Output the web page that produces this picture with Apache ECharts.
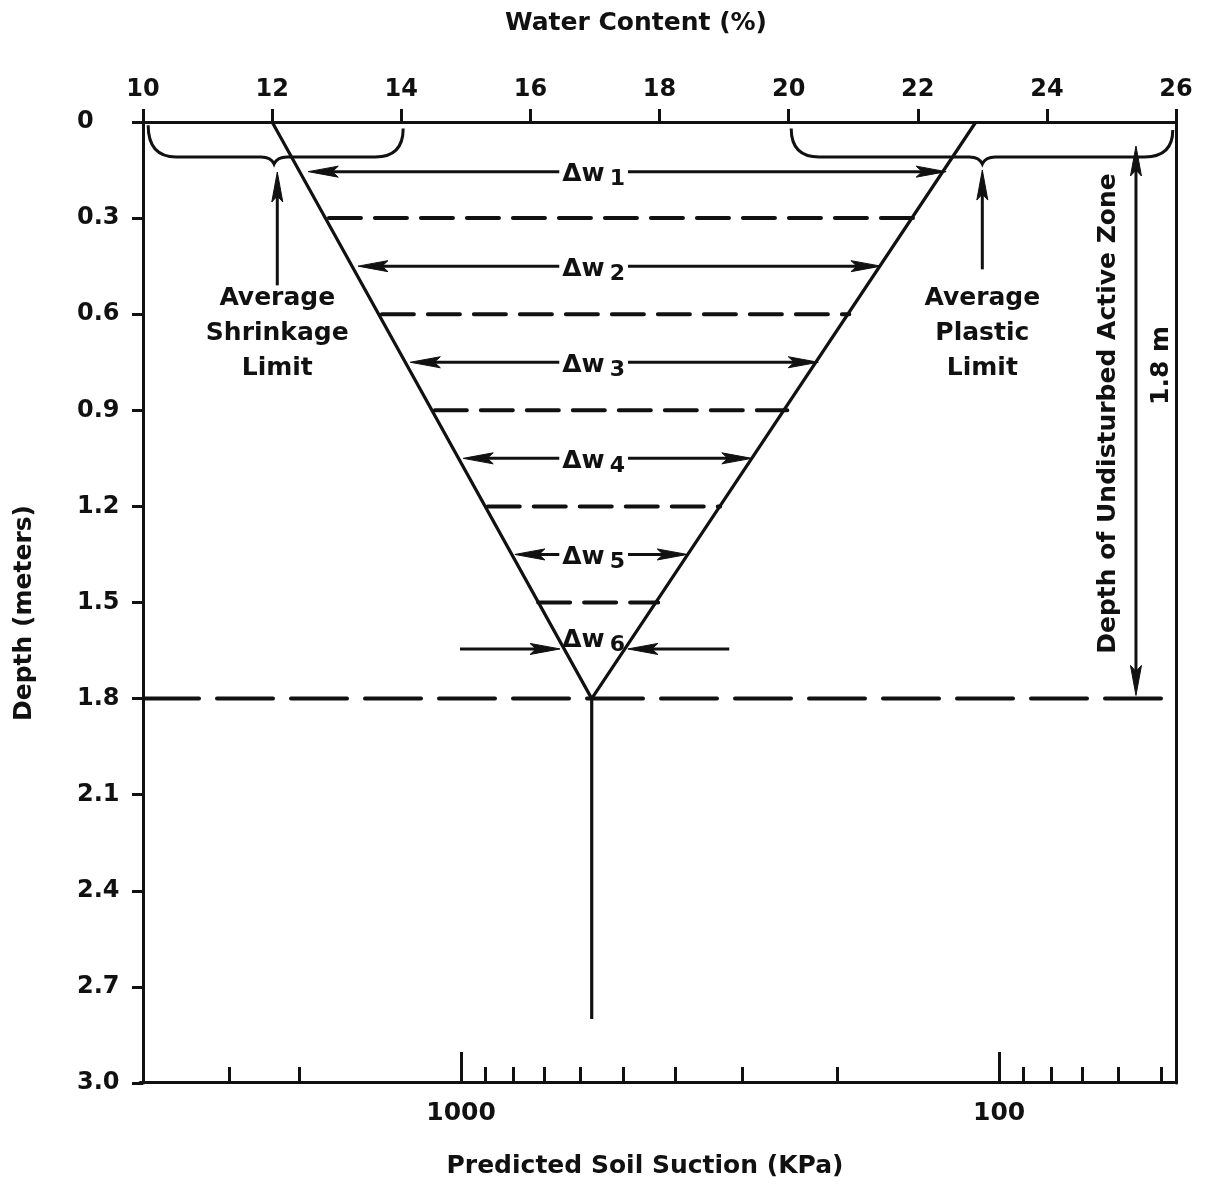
<!DOCTYPE html>
<html><head><meta charset="utf-8">
<script src="https://cdn.jsdelivr.net/npm/echarts@6/dist/echarts.min.js"></script>
<style>html,body{margin:0;padding:0;background:#fff}#c{width:1211px;height:1184px}</style>
</head><body><div id="c"></div>
<script>
// ---------------- data ----------------
// top axis: water content (%), left axis: depth (m), bottom axis: predicted soil suction (kPa, log)
const suctionMajorTicks = [1000, 100];
const suctionMinorTicks = [2700, 2000, 900, 800, 700, 600, 500, 400, 300, 200, 90, 80, 70, 60, 50];

// V-shaped envelope (shrinkage-limit side -> apex -> plastic-limit side)
const envelopeW = [12.0, 16.95, 22.9];
const envelopeD = [0, 1.8, 0];
const stemW = [16.95, 16.95];
const stemD = [1.8, 2.8];
const activeZoneDepth = 1.8;

// dashed layer boundaries inside the envelope
const levelDepth = [0.3, 0.6, 0.9, 1.2, 1.5];
const levelLeftW = [12.88, 13.70, 14.52, 15.34, 16.12];
const levelRightW = [21.93, 20.94, 19.98, 18.94, 17.98];

// Δw double arrows
const deltaSub = ['1', '2', '3', '4', '5', '6'];
const deltaDepth = [0.155, 0.45, 0.75, 1.05, 1.35];
const deltaLeftW = [12.56, 13.33, 14.14, 14.96, 15.76];
const deltaRightW = [22.44, 21.43, 20.46, 19.43, 18.43];
const deltaLabelW = 16.98;
// Δw6: two inward arrows
const dw6Depth = 1.645;
const dw6TailW = [14.91, 19.08];
const dw6TipW = [16.46, 17.51];
const dw6LabelDepth = 1.61;

// braces along the top (shrinkage limit range, plastic limit range)
const braceStartW = [10.08, 20.04];
const braceCuspW = [12.03, 23.0];
const braceEndW = [14.03, 25.95];
const braceStartD = [0.01, 0.02];
const braceEndD = [0.02, 0.025];
const braceBarD = [0.109, 0.109];
const braceCuspD = [0.131, 0.131];

// limit annotations
const limitText = ['Average\nShrinkage\nLimit', 'Average\nPlastic\nLimit'];
const limitW = [12.08, 23.0];
const limitTipD = [0.156, 0.15];
const limitTailD = [0.51, 0.46];
const limitLabelD = [0.66, 0.66];

// active zone dimension arrow
const zoneArrowW = [25.38, 25.38];
const zoneArrowD = [0.075, 1.79];
const zoneText = ['Depth of Undisturbed Active Zone', '1.8 m'];
const zoneTextW = [24.95, 25.78];
const zoneTextD = [0.91, 0.76];

// ---------------- chart ----------------
const FONT = 'DejaVu Sans';
const INK = '#111';
const txt = (size) => ({ fontFamily: FONT, fontWeight: 'bold', fontSize: size, color: INK });
const axisLine = { show: true, onZero: false, lineStyle: { color: INK, width: 3 } };

// arrows: [x1, d1, x2, d2, headAtStart, headAtEnd]
const arrowData = [];
deltaDepth.forEach((d, i) => arrowData.push([deltaLeftW[i], d, deltaRightW[i], d, 1, 1]));
dw6TailW.forEach((w, i) => arrowData.push([w, dw6Depth, dw6TipW[i], dw6Depth, 0, 1]));
limitW.forEach((w, i) => arrowData.push([w, limitTailD[i], w, limitTipD[i], 0, 1]));
arrowData.push([zoneArrowW[0], zoneArrowD[0], zoneArrowW[1], zoneArrowD[1], 1, 1]);

function renderArrow(params, api) {
  const p0 = api.coord([api.value(0), api.value(1)]);
  const p1 = api.coord([api.value(2), api.value(3)]);
  const hs = api.value(4), he = api.value(5);
  const dx = p1[0] - p0[0], dy = p1[1] - p0[1];
  const len = Math.hypot(dx, dy);
  const ux = dx / len, uy = dy / len, nx = -uy, ny = ux;
  const L = 30, W = 5.5, N = 0.8, cut = 10;
  const s = hs ? [p0[0] + ux * cut, p0[1] + uy * cut] : p0;
  const e = he ? [p1[0] - ux * cut, p1[1] - uy * cut] : p1;
  const children = [{ type: 'line', shape: { x1: s[0], y1: s[1], x2: e[0], y2: e[1] }, style: { stroke: INK, lineWidth: 3 } }];
  const head = (tip, sx, sy) => ({
    type: 'polygon',
    shape: { points: [
      [tip[0], tip[1]],
      [tip[0] - L * sx + W * nx, tip[1] - L * sy + W * ny],
      [tip[0] - N * L * sx, tip[1] - N * L * sy],
      [tip[0] - L * sx - W * nx, tip[1] - L * sy - W * ny]
    ] },
    style: { fill: INK, stroke: INK, lineWidth: 1 }
  });
  if (hs) children.push(head(p0, -ux, -uy));
  if (he) children.push(head(p1, ux, uy));
  return { type: 'group', children: children };
}

function renderBrace(params, api) {
  const a = api.coord([api.value(0), api.value(5)]);
  const b = api.coord([api.value(2), api.value(6)]);
  const c = api.coord([api.value(1), api.value(4)]);
  const yb = api.coord([api.value(0), api.value(3)])[1];
  const r = 28, k = 13;
  const p = 'M' + a[0] + ' ' + a[1] +
    ' Q' + a[0] + ' ' + yb + ' ' + (a[0] + r) + ' ' + yb +
    ' L' + (c[0] - k) + ' ' + yb +
    ' Q' + (c[0] - 3) + ' ' + yb + ' ' + c[0] + ' ' + c[1] +
    ' Q' + (c[0] + 3) + ' ' + yb + ' ' + (c[0] + k) + ' ' + yb +
    ' L' + (b[0] - r) + ' ' + yb +
    ' Q' + b[0] + ' ' + yb + ' ' + b[0] + ' ' + b[1];
  return { type: 'path', shape: { pathData: p }, style: { fill: null, stroke: INK, lineWidth: 3 } };
}

const baseLine = (data, style, z) => ({
  type: 'line', xAxisIndex: 0, yAxisIndex: 0, data: data, symbol: 'none', silent: true,
  lineStyle: Object.assign({ color: INK, width: 3.2 }, style), z: z
});

const series = [];
levelDepth.forEach((d, i) => series.push(baseLine([[levelLeftW[i], d], [levelRightW[i], d]],
  { type: [32, 14], width: 4, cap: 'round' }, 2)));
series.push(baseLine([[10, activeZoneDepth], [26, activeZoneDepth]], { type: [56, 18], width: 4, cap: 'round' }, 2));
// arrows
series.push({
  type: 'custom', xAxisIndex: 0, yAxisIndex: 0, silent: true, z: 2,
  encode: { x: [0, 2], y: [1, 3] },
  data: arrowData,
  renderItem: renderArrow
});
// Δw labels
const deltaLabelData = deltaDepth.map((d, i) => ({ value: [deltaLabelW, d], sub: deltaSub[i] }));
deltaLabelData.push({ value: [deltaLabelW, dw6LabelDepth], sub: deltaSub[5], label: { backgroundColor: 'transparent' } });
series.push({
  type: 'scatter', xAxisIndex: 0, yAxisIndex: 0, symbolSize: 0, silent: true, z: 3,
  itemStyle: { opacity: 1 },
  data: deltaLabelData,
  label: {
    show: true, position: 'inside', backgroundColor: '#fff', padding: [0, 3, 0, 3], opacity: 1,
    offset: [0, 3],
    formatter: (p) => '{a|Δw}{s|' + p.data.sub + '}',
    rich: {
      a: txt(25),
      s: Object.assign(txt(22), { padding: [10, 0, 0, 5] })
    }
  }
});
// envelope + stem
series.push(baseLine(envelopeW.map((w, i) => [w, envelopeD[i]]), {}, 5));
series.push(baseLine(stemW.map((w, i) => [w, stemD[i]]), {}, 5));
// braces
series.push({
  type: 'custom', xAxisIndex: 0, yAxisIndex: 0, silent: true, z: 5,
  encode: { x: 0, y: 3 },
  data: braceStartW.map((w, i) => [w, braceCuspW[i], braceEndW[i], braceBarD[i], braceCuspD[i], braceStartD[i], braceEndD[i]]),
  renderItem: renderBrace
});
// limit labels
series.push({
  type: 'scatter', xAxisIndex: 0, yAxisIndex: 0, symbolSize: 0, silent: true, z: 4,
  itemStyle: { opacity: 1 },
  data: limitW.map((w, i) => ({ value: [w, limitLabelD[i]], name: limitText[i] })),
  label: Object.assign({ show: true, position: 'inside', formatter: '{b}', lineHeight: 35, align: 'center', opacity: 1 }, txt(25))
});
// active zone texts
series.push({
  type: 'scatter', xAxisIndex: 0, yAxisIndex: 0, symbolSize: 0, silent: true, z: 4,
  itemStyle: { opacity: 1 },
  data: zoneText.map((t, i) => ({ value: [zoneTextW[i], zoneTextD[i]], name: t })),
  label: Object.assign({ show: true, position: 'inside', formatter: '{b}', rotate: 90, opacity: 1 }, txt(25))
});

const option = {
  animation: false,
  backgroundColor: '#fff',
  grid: [
    { left: 143, right: 35, top: 122, bottom: 101 },
    { left: 140, right: 35, top: 122, bottom: 101 }
  ],
  xAxis: [
    {
      gridIndex: 0, type: 'value', position: 'top', min: 10, max: 26, interval: 2,
      name: 'Water Content (%)', nameLocation: 'middle', nameGap: 86,
      nameTextStyle: Object.assign(txt(25), { padding: [0, 47, 0, 0] }),
      axisLine: axisLine,
      axisTick: { show: true, length: 13, lineStyle: { color: INK, width: 3 } },
      axisLabel: Object.assign({ margin: 20 }, txt(24)),
      splitLine: { show: false }
    },
    {
      gridIndex: 1, type: 'log', logBase: 10, inverse: true, min: 46.9, max: 3952, position: 'bottom',
      name: 'Predicted Soil Suction (KPa)', nameLocation: 'middle', nameGap: 72,
      nameTextStyle: Object.assign(txt(25), { padding: [0, 26, 0, 0] }),
      axisLine: axisLine,
      axisTick: { show: true, inside: true, length: 30, customValues: suctionMajorTicks, lineStyle: { color: INK, width: 3 } },
      axisLabel: Object.assign({ margin: 19, customValues: suctionMajorTicks, formatter: (v) => String(Math.round(v)) }, txt(25)),
      splitLine: { show: false }, minorTick: { show: false }
    },
    {
      gridIndex: 1, type: 'log', logBase: 10, inverse: true, min: 46.9, max: 3952, position: 'bottom',
      axisLine: { show: false, onZero: false },
      axisTick: { show: true, inside: true, length: 15, customValues: suctionMinorTicks, lineStyle: { color: INK, width: 3 } },
      axisLabel: { show: false },
      splitLine: { show: false }
    }
  ],
  yAxis: [
    {
      gridIndex: 0, type: 'value', inverse: true, min: 0, max: 3, interval: 0.3,
      name: 'Depth (meters)', nameLocation: 'middle', nameGap: 106, nameRotate: 90,
      nameTextStyle: Object.assign(txt(25), { padding: [0, 21, 0, 0] }),
      axisLine: axisLine,
      axisTick: { show: true, length: 11, lineStyle: { color: INK, width: 3 } },
      axisLabel: Object.assign({ margin: 66, align: 'left', formatter: (v) => v === 0 ? '0' : v.toFixed(1) }, txt(24)),
      splitLine: { show: false }
    },
    {
      gridIndex: 0, type: 'value', inverse: true, min: 0, max: 3, position: 'right',
      axisLine: axisLine, axisTick: { show: false }, axisLabel: { show: false }, splitLine: { show: false }
    },
    {
      gridIndex: 1, type: 'value', inverse: true, min: 0, max: 3, show: false
    }
  ],
  series: series
};

const chart = echarts.init(document.getElementById('c'), null, { renderer: 'canvas' });
chart.setOption(option);
</script>
</body></html>
